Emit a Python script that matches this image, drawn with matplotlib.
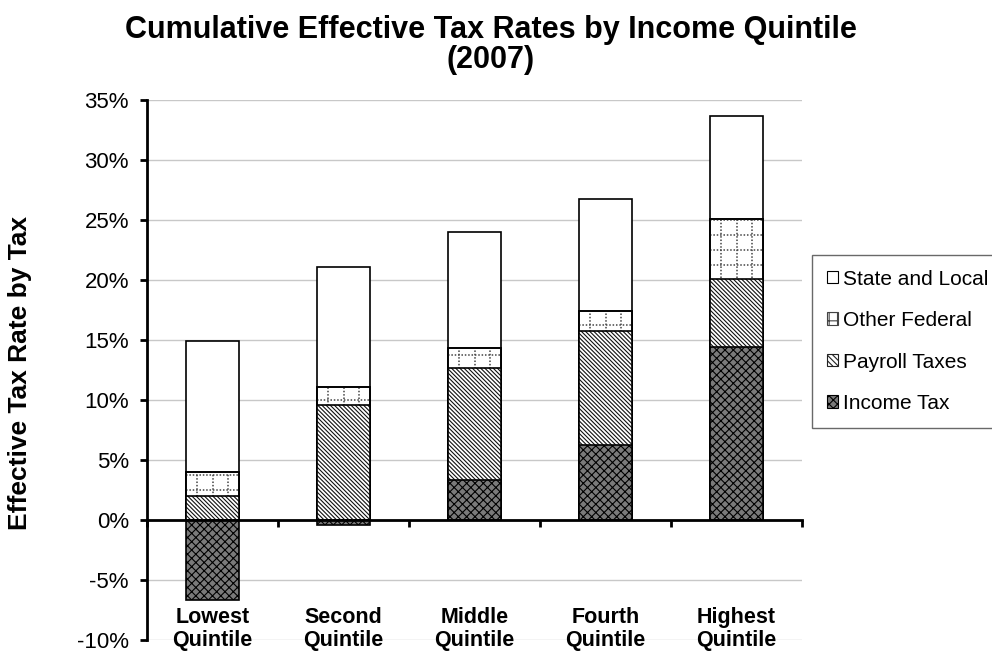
import matplotlib
matplotlib.use("Agg")
import matplotlib.pyplot as plt
from matplotlib.patches import Patch
import numpy as np

plt.rcParams['font.family'] = ['Liberation Sans', 'DejaVu Sans']
plt.rcParams['hatch.linewidth'] = 0.8

# Cumulative effective tax rates (%), each series includes those below it
quintiles = ["Lowest\nQuintile", "Second\nQuintile", "Middle\nQuintile",
             "Fourth\nQuintile", "Highest\nQuintile"]
income_tax = [-6.7, -0.4, 3.3, 6.25, 14.45]
payroll_cum = [2.0, 9.55, 12.7, 15.75, 20.1]
other_federal_cum = [4.0, 11.05, 14.35, 17.4, 25.1]
state_local_cum = [14.9, 21.05, 24.0, 26.75, 33.65]

series_names = ["State and Local", "Other Federal", "Payroll Taxes", "Income Tax"]
yticks = [-10, -5, 0, 5, 10, 15, 20, 25, 30, 35]

fig = plt.figure(figsize=(9.92, 6.53), dpi=100)
ax = fig.add_axes([147/992, 1-640/653, (802-147)/992, (640-100)/653])

x = np.arange(len(quintiles))
w = 0.40
edge_lw = 1.2

ax.set_xlim(-0.5, len(quintiles) - 0.5)
ax.set_ylim(-10, 35)

# gridlines
ax.set_yticks(yticks)
ax.set_yticklabels([f"{v}%" for v in yticks], fontsize=16)
ax.yaxis.grid(True, color='#c8c8c8', linewidth=1.0, zorder=0)
ax.set_axisbelow(True)

# State and Local (total)
ax.bar(x, state_local_cum, width=w, color='white', edgecolor='black',
       linewidth=edge_lw, zorder=2)

# Other Federal with dotted grid fill
other_bars = ax.bar(x, other_federal_cum, width=w, color='white', edgecolor='black',
                    linewidth=edge_lw, zorder=3)
step_x = 0.115
step_y = 1.25
for xi, rect in zip(x, other_bars):
    y0, y1 = 0, rect.get_height()
    vx = xi + np.array([-step_x, 0, step_x])
    vl = ax.vlines(vx, y0, y1, colors='#444444', linestyles=(0, (1, 1.2)),
                   linewidth=1.1, zorder=3.1)
    vl.set_clip_path(rect)
    hy = np.arange(step_y, y1, step_y)
    hl = ax.hlines(hy, xi - w/2, xi + w/2, colors='#444444', linestyles=(0, (1, 1.2)),
                   linewidth=1.1, zorder=3.1)
    hl.set_clip_path(rect)
    ax.bar(xi, y1, width=w, fill=False, edgecolor='black', linewidth=edge_lw, zorder=3.2)

# Payroll Taxes
ax.bar(x, payroll_cum, width=w, color='white', edgecolor='#111111', hatch='\\' * 8,
       linewidth=0, zorder=4)
ax.bar(x, payroll_cum, width=w, fill=False, edgecolor='black', linewidth=edge_lw, zorder=4.1)

# Income Tax
ax.bar(x, income_tax, width=w, color='#7a7a7a', edgecolor='black', hatch='xxxx',
       linewidth=0, zorder=5)
ax.bar(x, income_tax, width=w, fill=False, edgecolor='black', linewidth=edge_lw, zorder=5.1)

# axes styling
for s in ['top', 'right']:
    ax.spines[s].set_visible(False)
ax.spines['left'].set_linewidth(2)
ax.spines['bottom'].set_position(('data', 0))
ax.spines['bottom'].set_linewidth(2)
ax.spines['bottom'].set_zorder(6)
ax.tick_params(axis='y', direction='out', length=5, width=2, pad=8)
ax.set_xticks(np.arange(len(quintiles) + 1) - 0.5)
ax.set_xticklabels([])
ax.tick_params(axis='x', direction='out', length=5, width=2)

for xi, lab in zip(x, quintiles):
    ax.text(xi, -9.05, lab, ha='center', va='center', fontsize=15.5,
            fontweight='bold', linespacing=1.12, zorder=7)

fig.text(0.495, 1 - 45/653, "Cumulative Effective Tax Rates by Income Quintile\n(2007)",
         ha='center', va='center', fontsize=22, fontweight='bold', linespacing=1.0)
fig.text(20/992, 1 - 373/653, "Effective Tax Rate by Tax", rotation=90,
         ha='center', va='center', fontsize=19, fontweight='bold')

handles = [
    Patch(facecolor='white', edgecolor='black', linewidth=0.8),
    Patch(facecolor='white', edgecolor='#444444', hatch='++', linewidth=0.8),
    Patch(facecolor='white', edgecolor='#222222', hatch='\\' * 6, linewidth=0.8),
    Patch(facecolor='#7a7a7a', edgecolor='black', hatch='xxxx', linewidth=0.8),
]
leg = fig.legend(handles, series_names, loc='upper left',
                 bbox_to_anchor=(812/992, 1 - 255/653), fontsize=15,
                 frameon=True, fancybox=False, shadow=False,
                 handlelength=0.55, handleheight=0.55, handletextpad=0.25,
                 labelspacing=1.08, borderpad=0.7, borderaxespad=0)
leg.get_frame().set_edgecolor('#444444')
leg.get_frame().set_linewidth(1.0)

fig.savefig("out.png", dpi=100)
